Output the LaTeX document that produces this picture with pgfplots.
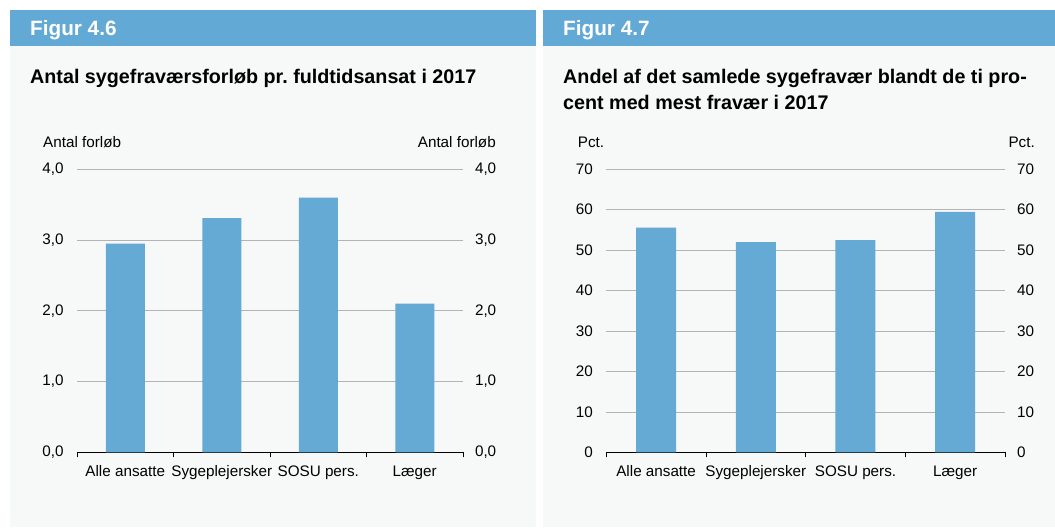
\documentclass[border=0pt]{standalone}
\usepackage{fontspec}
\setmainfont{Liberation Sans}
\usepackage{pgfplots}
\pgfplotsset{compat=1.18}
\frenchspacing

\definecolor{hdr}{HTML}{63A9D5}
\definecolor{barc}{HTML}{64AAD4}
\definecolor{bg}{HTML}{F7F8F8}
\definecolor{gridc}{HTML}{B4B4B4}

\newcommand{\tf}{\fontsize{15.3}{18}\selectfont}
\newcommand{\hf}{\fontsize{20.8}{24}\selectfont\bfseries}
\newcommand{\ttl}{\fontsize{19.8}{24}\selectfont\bfseries}

\pgfplotsset{
  basebar/.style={
    scale only axis, height=283bp, anchor=south west,
    ymin=0, xmin=-0.5, xmax=3.5,
    tick label style={font=\tf},
    /pgf/number format/assume math mode=true,
    clip=false,
    major tick length=0bp,
  },
  mainbar/.style={
    basebar,
    axis x line*=bottom, axis y line*=left,
    y axis line style={draw=none},
    x axis line style={black, line width=0.9pt},
    ytick style={draw=none},
    major x tick style={draw=none},
    minor x tick style={black, line width=0.8pt},
    minor xtick={-0.5,0.5,1.5,2.5,3.5},
    minor tick length=5bp,
    tick align=outside,
    xtick={0,1,2,3},
    xticklabels={Alle ansatte,Sygeplejersker,SOSU pers.,Læger},
    ymajorgrids, major grid style={gridc, line width=0.7pt},
    yticklabel style={anchor=east, xshift=-10bp},
    xticklabel style={anchor=base, yshift=-24.4bp},
  },
  rightlab/.style={
    basebar,
    hide x axis,
    axis y line*=right,
    y axis line style={draw=none},
    ytick style={draw=none},
    yticklabel style={anchor=west, xshift=8.5bp},
  },
}

\begin{document}
\begin{tikzpicture}
\useasboundingbox (0bp,0bp) rectangle (1055bp,528bp);
\fill[white] (0bp,0bp) rectangle (1055bp,528bp);
\fill[bg] (10bp,1bp) rectangle (536bp,482bp);
\fill[hdr] (10bp,482bp) rectangle (536bp,518bp);
\fill[bg] (543bp,1bp) rectangle (1055bp,482bp);
\fill[hdr] (543bp,482bp) rectangle (1055bp,518bp);

\node[anchor=base west, text=white, font=\hf, inner sep=0] at (30bp,492bp) {Figur 4.6};
\node[anchor=base west, text=white, font=\hf, inner sep=0] at (563bp,492bp) {Figur 4.7};
\node[anchor=base west, font=\ttl, inner sep=0] at (30bp,444bp) {Antal sygefraværsforløb pr. fuldtidsansat i 2017};
\node[anchor=base west, font=\ttl, inner sep=0] at (563bp,444.7bp) {Andel af det samlede sygefravær blandt de ti pro-};
\node[anchor=base west, font=\ttl, inner sep=0] at (563bp,418.7bp) {cent med mest fravær i 2017};

\node[anchor=base west, font=\tf, inner sep=0] at (43bp,380.7bp) {Antal forløb};
\node[anchor=base east, font=\tf, inner sep=0] at (496bp,380.7bp) {Antal forløb};
\node[anchor=base west, font=\tf, inner sep=0] at (577.7bp,380.7bp) {Pct.};
\node[anchor=base east, font=\tf, inner sep=0] at (1035bp,380.7bp) {Pct.};

% Left chart
\begin{axis}[mainbar, at={(77bp,75.7bp)}, width=386bp, ymax=4,
  ytick={0,1,2,3,4},
  yticklabel style={/pgf/number format/.cd, fixed, fixed zerofill, precision=1, use comma}]
\addplot[ybar, bar width=39bp, fill=barc, draw=none]
  coordinates {(0,2.95) (1,3.31) (2,3.60) (3,2.10)};
\end{axis}
\begin{axis}[rightlab, at={(77bp,75.7bp)}, width=386bp, ymax=4,
  ytick={0,1,2,3,4},
  yticklabel style={/pgf/number format/.cd, fixed, fixed zerofill, precision=1, use comma}]
\end{axis}

% Right chart
\begin{axis}[mainbar, at={(606.3bp,75.7bp)}, width=398.7bp, ymax=70,
  ytick={0,10,...,70}]
\addplot[ybar, bar width=40bp, fill=barc, draw=none]
  coordinates {(0,55.6) (1,52.0) (2,52.5) (3,59.5)};
\end{axis}
\begin{axis}[rightlab, at={(606.3bp,75.7bp)}, width=398.7bp, ymax=70,
  ytick={0,10,...,70}]
\end{axis}
\end{tikzpicture}
\end{document}
